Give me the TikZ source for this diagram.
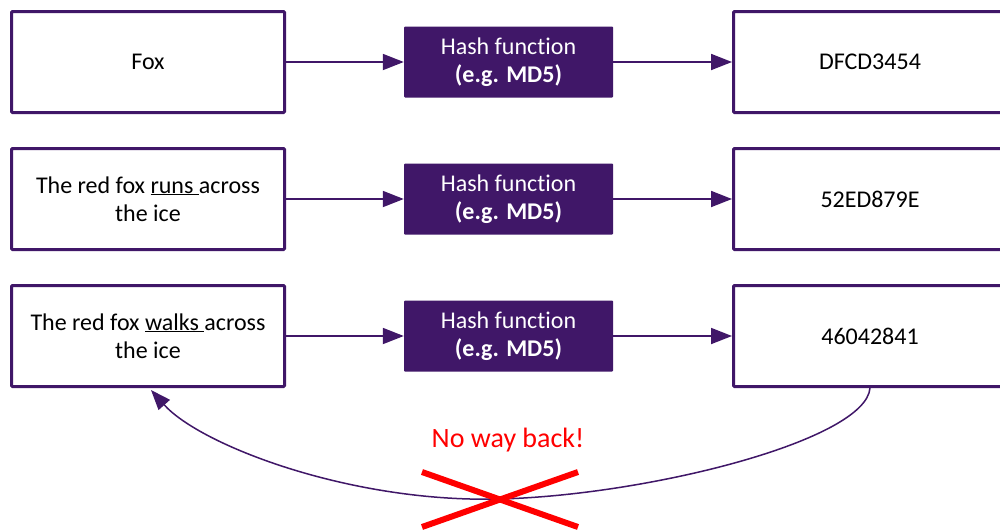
\documentclass[tikz,border=0pt]{standalone}
\usepackage{fontspec}
\setmainfont{Carlito}[Ligatures=NoCommon]
\usetikzlibrary{arrows.meta}
\definecolor{hpurple}{HTML}{401768}
\definecolor{hred}{HTML}{FF0000}
\begin{document}
\begin{tikzpicture}[x=1pt,y=-1pt,
  inbox/.style={draw=hpurple, line width=3pt, fill=white, rounded corners=1pt,
    minimum width=273pt, minimum height=101pt, align=center, inner sep=0pt,
    font=\fontsize{24}{28.5}\selectfont, text=black},
  hashbox/.style={fill=hpurple, rounded corners=1pt, minimum width=209pt,
    minimum height=71pt, align=center, inner sep=0pt, text=white,
    font=\fontsize{24}{28.5}\selectfont},
  flow/.style={draw=hpurple, line width=1.8pt, -{Triangle[length=21pt,width=16pt]}},
  back/.style={draw=hpurple, line width=1.5pt, -{Triangle[length=20pt,width=15pt]}},
  cross/.style={draw=hred, line width=6pt}]
\useasboundingbox (0,0) rectangle (1000,531);
\clip (0,0) rectangle (1000,531);
\fill[white] (0,0) rectangle (1000,531);
% row 1
\node[inbox] (l1) at (148,62) {Fox};
\node[hashbox] (h1) at (508.5,62) {Hash function\\\textbf{(e.g. MD5)}};
\node[inbox] (r1) at (870,62) {DFCD3454};
% row 2
\node[inbox] (l2) at (148,199) {The red fox \underline{runs\ }across\\the ice};
\node[hashbox] (h2) at (508.5,199) {Hash function\\\textbf{(e.g. MD5)}};
\node[inbox] (r2) at (870,199) {52ED879E};
% row 3
\node[inbox] (l3) at (148,336) {The red fox \underline{walks\ }across\\the ice};
\node[hashbox] (h3) at (508.5,336) {Hash function\\\textbf{(e.g. MD5)}};
\node[inbox] (r3) at (870,336) {46042841};
% arrows
\draw[flow] (l1) -- (h1);
\draw[flow] (h1) -- (r1);
\draw[flow] (l2) -- (h2);
\draw[flow] (h2) -- (r2);
\draw[flow] (l3) -- (h3);
\draw[flow] (h3) -- (r3);
% way back
\coordinate (bs) at (r3.south);
\coordinate (bm) at (500,499);
\coordinate (be) at (151,390);
\draw[back] (bs) .. controls (866,440) and (650,495) .. (bm)
  .. controls (350,503) and (200,445) .. (be);
\node[text=hred, font=\fontsize{28}{33}\selectfont] (nwb) at (508,440) {No way back!};
\coordinate (xa) at (422,472);
\coordinate (xb) at (578,527);
\coordinate (xc) at (422,527);
\coordinate (xd) at (578,472);
\draw[cross] (xa) -- (xb);
\draw[cross] (xc) -- (xd);
\end{tikzpicture}
\end{document}
